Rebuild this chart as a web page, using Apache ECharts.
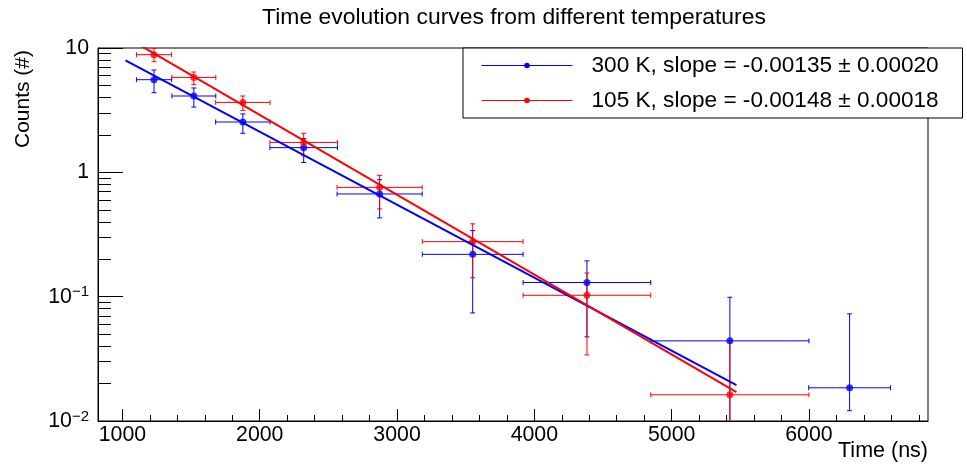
<!DOCTYPE html>
<html>
<head>
<meta charset="utf-8">
<script src="https://cdn.jsdelivr.net/npm/echarts@6/dist/echarts.min.js"></script>
<style>
html,body{margin:0;padding:0;background:#fff;}
#chart{width:967px;height:469px;}
</style>
</head>
<body>
<div id="chart"></div>
<script>
// ---- data ----
const titleText = 'Time evolution curves from different temperatures';
const xAxisTitle = 'Time (ns)';
const yAxisTitle = 'Counts (#)';

const xCenters    = [1230, 1520, 1877, 2320, 2873, 3551, 4383, 5424, 6296];
const xHalfWidths = [128, 160, 198, 246, 310, 367, 465, 576, 298];

const name300 = '300 K, slope = -0.00135 \u00b1 0.00020';
const y300        = [5.56, 4.11, 2.54, 1.58, 0.67, 0.219, 0.130, 0.0441, 0.0185];
const y300ErrDown = [1.19, 0.76, 0.48, 0.38, 0.24, 0.145, 0.0825, 0.0548, 0.0064];
const y300ErrUp   = [1.09, 0.66, 0.41, 0.29, 0.203, 0.121, 0.064, 0.0548, 0.0542];

const name105 = '105 K, slope = -0.00148 \u00b1 0.00018';
const y105        = [8.84, 5.80, 3.65, 1.74, 0.757, 0.277, 0.1026, 0.01625];
const y105ErrDown = [1.08, 0.73, 0.50, 0.38, 0.249, 0.135, 0.0686, 0.028];
const y105ErrUp   = [1.11, 0.61, 0.46, 0.32, 0.189, 0.108, 0.0524, 0.028];

// fitted exponential lines (end points)
const fit300 = [[1022, 7.95], [5472, 0.0194]];
const fit105 = [[1022, 12.3], [5472, 0.01705]];

// axes
const X_MIN = 822, X_MAX = 6867;
const Y_MIN = 0.01, Y_MAX = 10;
const xMajorTicks = [1000, 2000, 3000, 4000, 5000, 6000];
const xTickLabels = ['1000', '2000', '3000', '4000', '5000', '6000'];
const xMinorTicks = [1200, 1400, 1600, 1800, 2200, 2400, 2600, 2800, 3200, 3400, 3600, 3800,
                     4200, 4400, 4600, 4800, 5200, 5400, 5600, 5800, 6200, 6400, 6600, 6800];
const yMajorTicks = [0.01, 0.1, 1, 10];
const yTickLabels = ['{b|10}{s|\u22122}', '{b|10}{s|\u22121}', '1', '10'];
const yMinorTicks = [0.02, 0.03, 0.04, 0.05, 0.06, 0.07, 0.08, 0.09,
                     0.2, 0.3, 0.4, 0.5, 0.6, 0.7, 0.8, 0.9,
                     2, 3, 4, 5, 6, 7, 8, 9];

// ---- chart ----
const FONT = 'Liberation Sans';
const BLUE = '#0000ff', RED = '#ff0000';

function errData(ys, down, up) {
  return ys.map((y, i) => [xCenters[i], xCenters[i] - xHalfWidths[i], xCenters[i] + xHalfWidths[i],
                           y, y - down[i], y + up[i]]);
}
function scatterData(ys) { return ys.map((y, i) => [xCenters[i], y]); }

function errRender(color) {
  return function (params, api) {
    const x = api.value(0), xl = api.value(1), xh = api.value(2);
    const y = api.value(3), yl = api.value(4), yh = api.value(5);
    const c = api.coord([x, y]);
    const pl = api.coord([xl, y]);
    const ph = api.coord([xh, y]);
    const pt = api.coord([x, yh]);
    let lowClipped = !(yl > 0);
    const pb = lowClipped ? api.coord([x, Y_MIN * 0.5]) : api.coord([x, yl]);
    const cap = 2.5;
    const st = { stroke: color, lineWidth: 1 };
    const kids = [
      { type: 'line', shape: { x1: pl[0], y1: c[1], x2: ph[0], y2: c[1] }, style: st },
      { type: 'line', shape: { x1: pl[0], y1: c[1] - cap, x2: pl[0], y2: c[1] + cap }, style: st },
      { type: 'line', shape: { x1: ph[0], y1: c[1] - cap, x2: ph[0], y2: c[1] + cap }, style: st },
      { type: 'line', shape: { x1: c[0], y1: pt[1], x2: c[0], y2: pb[1] }, style: st },
      { type: 'line', shape: { x1: c[0] - cap, y1: pt[1], x2: c[0] + cap, y2: pt[1] }, style: st }
    ];
    if (!lowClipped) {
      kids.push({ type: 'line', shape: { x1: c[0] - cap, y1: pb[1], x2: c[0] + cap, y2: pb[1] }, style: st });
    }
    return { type: 'group', children: kids };
  };
}

const chart = echarts.init(document.getElementById('chart'), null, { renderer: 'canvas' });

const option = {
  animation: false,
  backgroundColor: '#fff',
  textStyle: { fontFamily: FONT },
  grid: { left: 98, right: 39, top: 48, bottom: 48, show: true, borderColor: '#000', borderWidth: 1, containLabel: false },
  xAxis: [
    {
      type: 'value', min: X_MIN, max: X_MAX, position: 'bottom',
      axisLine: { show: true, lineStyle: { color: '#000', width: 1 } },
      axisTick: { show: true, inside: true, length: 12, customValues: xMajorTicks, lineStyle: { color: '#000' } },
      axisLabel: {
        show: true, customValues: xMajorTicks, margin: 4, fontSize: 21.3, color: '#000', fontFamily: FONT,
        formatter: function (v) {
          const i = xMajorTicks.indexOf(Math.round(v));
          return i >= 0 ? xTickLabels[i] : '';
        }
      },
      splitLine: { show: false }
    },
    {
      type: 'value', min: X_MIN, max: X_MAX, position: 'bottom',
      axisLine: { show: false },
      axisTick: { show: true, inside: true, length: 6, customValues: xMinorTicks, lineStyle: { color: '#000' } },
      axisLabel: { show: false },
      splitLine: { show: false }
    }
  ],
  yAxis: [
    {
      type: 'log', logBase: 10, min: Y_MIN, max: Y_MAX, position: 'left',
      axisLine: { show: true, lineStyle: { color: '#000', width: 1 } },
      axisTick: { show: true, inside: true, length: 25, customValues: yMajorTicks, lineStyle: { color: '#000' } },
      axisLabel: {
        show: true, customValues: yMajorTicks, margin: 9, color: '#000', fontFamily: FONT, fontSize: 21.3,
        formatter: function (v) {
          let best = 0, bd = Infinity;
          yMajorTicks.forEach((t, i) => { const d = Math.abs(Math.log10(v) - Math.log10(t)); if (d < bd) { bd = d; best = i; } });
          return yTickLabels[best];
        },
        rich: {
          b: { fontSize: 21.3, lineHeight: 24, fontFamily: FONT, color: '#000' },
          s: { fontSize: 15, lineHeight: 11, verticalAlign: 'top', fontFamily: FONT, color: '#000' }
        }
      },
      splitLine: { show: false }
    },
    {
      type: 'log', logBase: 10, min: Y_MIN, max: Y_MAX, position: 'left',
      axisLine: { show: false },
      axisTick: { show: true, inside: true, length: 13, customValues: yMinorTicks, lineStyle: { color: '#000' } },
      axisLabel: { show: false },
      splitLine: { show: false }
    }
  ],
  legend: {
    orient: 'vertical', left: 463, top: 48,
    padding: [5, 11, 5, 18], itemGap: 10,
    itemWidth: 91, itemHeight: 7,
    backgroundColor: '#fff', borderColor: '#000', borderWidth: 1, borderRadius: 0,
    selectedMode: false,
    lineStyle: { width: 1 },
    textStyle: { fontFamily: FONT, fontSize: 22.6, color: '#000', lineHeight: 25, width: 360, padding: [0, 0, 0, 14] },
    data: [name300, name105]
  },
  graphic: [
    { type: 'text', x: 514, y: 18, style: { text: titleText, font: '22.9px "Liberation Sans"', fill: '#000', textAlign: 'center', textVerticalAlign: 'middle' } },
    { type: 'text', x: 928, y: 451, style: { text: xAxisTitle, font: '21.5px "Liberation Sans"', fill: '#000', textAlign: 'right', textVerticalAlign: 'middle' } },
    { type: 'text', x: 23, y: 50, rotation: Math.PI / 2, style: { text: yAxisTitle, font: '21px "Liberation Sans"', fill: '#000', textAlign: 'right', textVerticalAlign: 'middle' } }
  ],
  series: [
    {
      type: 'custom', name: 'err300', xAxisIndex: 0, yAxisIndex: 0, clip: true,
      renderItem: errRender(BLUE), encode: { x: [0, 1, 2], y: [3, 4, 5] },
      data: errData(y300, y300ErrDown, y300ErrUp), silent: true
    },
    {
      type: 'scatter', name: 'pts300', xAxisIndex: 0, yAxisIndex: 0, symbol: 'circle', symbolSize: 7,
      itemStyle: { color: BLUE }, data: scatterData(y300), silent: true
    },
    {
      type: 'line', name: name300, xAxisIndex: 0, yAxisIndex: 0, showSymbol: false, symbol: 'circle',
      clip: true, lineStyle: { color: BLUE, width: 2 }, itemStyle: { color: BLUE },
      data: fit300, silent: true
    },
    {
      type: 'custom', name: 'err105', xAxisIndex: 0, yAxisIndex: 0, clip: true,
      renderItem: errRender(RED), encode: { x: [0, 1, 2], y: [3, 4, 5] },
      data: errData(y105, y105ErrDown, y105ErrUp), silent: true
    },
    {
      type: 'scatter', name: 'pts105', xAxisIndex: 0, yAxisIndex: 0, symbol: 'circle', symbolSize: 7,
      itemStyle: { color: RED }, data: scatterData(y105), silent: true
    },
    {
      type: 'line', name: name105, xAxisIndex: 0, yAxisIndex: 0, showSymbol: false, symbol: 'circle',
      clip: true, lineStyle: { color: RED, width: 2 }, itemStyle: { color: RED },
      data: fit105, silent: true
    }
  ]
};
chart.setOption(option);
</script>
</body>
</html>
